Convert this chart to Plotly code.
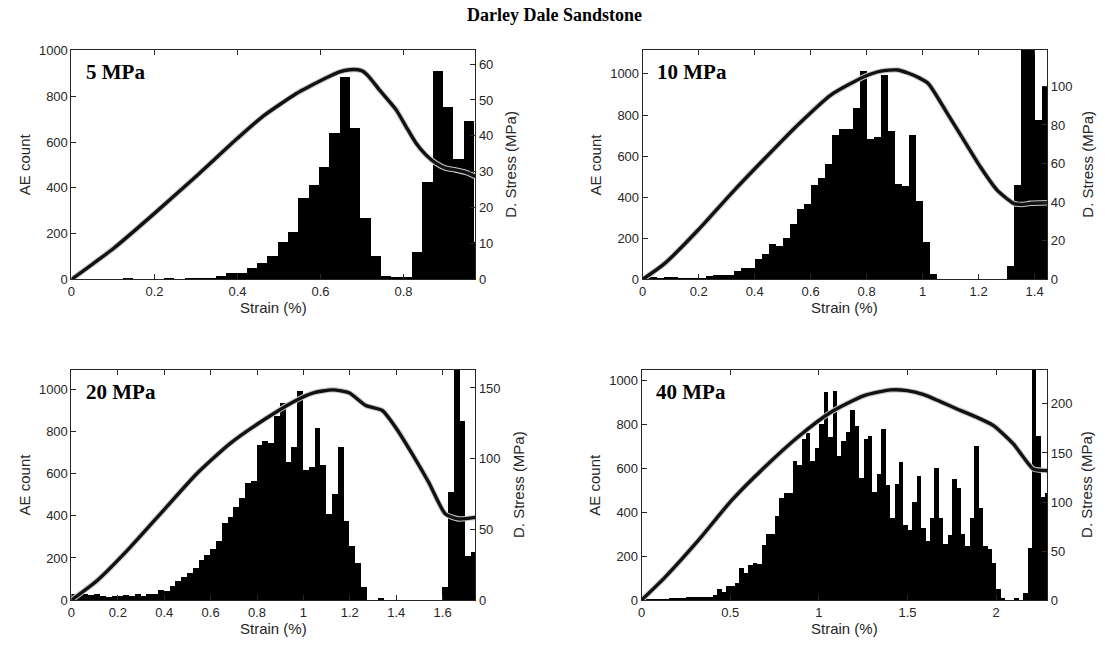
import plotly.graph_objects as go

TITLE = "Darley Dale Sandstone"
PANEL_LABELS = ["5 MPa", "10 MPa", "20 MPa", "40 MPa"]
X_TITLE = "Strain (%)"
Y_LEFT_TITLE = "AE count"
Y_RIGHT_TITLE = "D. Stress (MPa)"

# AE histogram bin widths (strain %) and counts per bin, starting at strain 0
BIN_WIDTH = [0.0249, 0.025, 0.025, 0.025]

AE_5 = [0, 1, 2, 3, 2, 5, 2, 3, 2, 4, 3, 4, 5, 9, 17, 29, 29, 52, 74, 106,
        164, 208, 357, 416, 491, 642, 886, 661, 270, 106, 17, 14, 14, 121, 429, 912,
        757, 527, 695, 163]

AE_10 = [16, 13, 10, 11, 13, 8, 8, 8, 10, 18, 21, 23, 23, 45, 58, 58, 102, 125, 174, 163,
         203, 273, 343, 367, 461, 496, 562, 702, 734, 736, 837, 1017, 687, 695, 996, 723,
         468, 457, 705, 382, 184, 29, 0, 0, 0, 0, 0, 0, 0, 0, 0, 0,
         65, 463, 1250, 1180, 777, 938]

AE_20 = [29, 33, 30, 25, 29, 21, 16, 19, 19, 25, 22, 29, 19, 33, 32, 51, 44, 68, 92, 111,
         132, 152, 190, 214, 246, 283, 368, 398, 446, 486, 560, 568, 740, 757, 746, 878,
         937, 660, 727, 997, 619, 632, 819, 643, 413, 508, 727, 378, 259, 179, 63, 0, 0,
         13, 0, 0, 0, 0, 0, 0, 0, 0, 0, 0, 63, 513, 1150, 854, 211, 232]

AE_40 = [9, 6, 3, 5, 3, 3, 12, 11, 9, 12, 15, 15, 15, 15, 15, 18, 27, 50, 38, 65,
         68, 80, 146, 123, 161, 172, 167, 252, 301, 301, 386, 465, 491, 491, 635, 617,
         734, 764, 635, 696, 802, 951, 745, 954, 658, 726, 769, 866, 792, 556, 734, 749,
         495, 574, 780, 526, 377, 529, 632, 343, 322, 448, 567, 328, 271, 374, 605, 377,
         258, 298, 552, 511, 301, 248, 374, 704, 419, 248, 233, 172, 50, 9, 0, 0, 9, 0,
         35, 237, 1200, 749, 471, 491]

# differential stress curves (strain %, MPa)
STRAIN_5 = [0, 0.05, 0.102, 0.2, 0.302, 0.4, 0.462, 0.542, 0.574, 0.622, 0.646, 0.67, 0.69,
            0.702, 0.718, 0.742, 0.782, 0.806, 0.83, 0.854, 0.878, 0.902, 0.925, 0.95, 0.973]
STRESS_5 = [0, 4.2, 8.7, 18.4, 28.9, 39.3, 45.5, 51.8, 53.8, 56.6, 57.8, 58.4, 58.4,
            58.0, 56.3, 52.8, 47.3, 42.6, 38.0, 34.7, 32.4, 31.0, 30.5, 29.8, 28.7]

STRAIN_10 = [0, 0.079, 0.198, 0.317, 0.435, 0.554, 0.672, 0.791, 0.851, 0.91, 0.95, 0.985,
             1.02, 1.088, 1.147, 1.206, 1.266, 1.325, 1.355, 1.384, 1.444]
STRESS_10 = [0, 8.3, 25.6, 44.6, 62.5, 80.0, 95.5, 105.0, 107.9, 108.5, 106.8, 104.6,
             101.5, 86.0, 72.2, 58.4, 46.3, 39.4, 38.8, 39.4, 39.7]

STRAIN_20 = [0, 0.11, 0.253, 0.396, 0.539, 0.682, 0.825, 0.968, 1.04, 1.126, 1.197, 1.269,
             1.34, 1.397, 1.469, 1.54, 1.612, 1.669, 1.74]
STRESS_20 = [0, 13.7, 37.3, 63.3, 89.2, 110.5, 127.0, 141.2, 146.4, 148.7, 146.6, 137.6,
             134.1, 122.3, 103.4, 83.3, 60.9, 57.4, 58.5]

STRAIN_40 = [0, 0.131, 0.318, 0.506, 0.693, 0.88, 1.067, 1.255, 1.404, 1.498, 1.592, 1.685,
             1.779, 1.891, 1.985, 2.097, 2.154, 2.21, 2.288]
STRESS_40 = [0, 23.1, 60.5, 101.4, 135.4, 166.0, 191.5, 208.5, 214.3, 213.6, 209.5, 202.4,
             194.9, 186.4, 177.9, 159.2, 145.6, 133.7, 132.0]

AE_DATA = [AE_5, AE_10, AE_20, AE_40]
STRAIN_DATA = [STRAIN_5, STRAIN_10, STRAIN_20, STRAIN_40]
STRESS_DATA = [STRESS_5, STRESS_10, STRESS_20, STRESS_40]

X_MAX = [0.973, 1.445, 1.741, 2.288]
AE_MAX = [1004, 1118, 1095, 1049]
STRESS_MAX = [64, 119, 163, 235]
X_DTICK = [0.2, 0.2, 0.2, 0.5]
STRESS_DTICK = [10, 20, 50, 50]

W, H = 1105, 650
# vertical correction between layout pixels and the photographed page
Y_OFF, Y_SCALE = 7.4, 0.975
# target plot boxes in pixels: left, right, top, bottom
BOXES = [(67.7, 473, 50, 279.3), (641, 1047, 50, 279.3),
         (67.7, 473, 369.3, 599.3), (640, 1047, 369.3, 599.3)]
RIGHT_TITLE_GAP = [35, 40, 44, 40]

TXT = "#262626"
SANS = "Liberation Sans, Arial, sans-serif"
SERIF = "Liberation Serif, Times New Roman, serif"

fig = go.Figure()
layout = {}
annotations = []


def px(x):
    return x / W


def py(y):
    return 1 - ((y - Y_OFF) / Y_SCALE) / H


for i in range(4):
    n = i + 1
    xid = "x" if n == 1 else f"x{n}"
    yl = "y" if n == 1 else f"y{2 * n - 1}"
    yr = f"y{2 * n}"
    xkey = "xaxis" if n == 1 else f"xaxis{n}"
    ylkey = "yaxis" if n == 1 else f"yaxis{2 * n - 1}"
    yrkey = f"yaxis{2 * n}"
    l, r, t, b = BOXES[i]
    w = BIN_WIDTH[i]
    counts = AE_DATA[i]
    centers = [(k + 0.5) * w for k in range(len(counts))]

    fig.add_trace(go.Bar(x=centers, y=counts, width=[w] * len(counts),
                         marker=dict(color="black", line=dict(width=0)),
                         xaxis=xid, yaxis=yl, showlegend=False))
    fig.add_trace(go.Scatter(x=STRAIN_DATA[i], y=STRESS_DATA[i], mode="lines",
                             line=dict(color="#c8c8c8", width=5.5, shape="spline", smoothing=0.6),
                             xaxis=xid, yaxis=yr, showlegend=False))
    fig.add_trace(go.Scatter(x=STRAIN_DATA[i], y=STRESS_DATA[i], mode="lines",
                             line=dict(color="#111111", width=3.4, shape="spline", smoothing=0.6),
                             xaxis=xid, yaxis=yr, showlegend=False))

    common = dict(showgrid=False, zeroline=False, showline=True, linecolor=TXT,
                  linewidth=1, ticks="inside", ticklen=5, tickcolor=TXT,
                  tickfont=dict(family=SANS, size=13, color=TXT))
    layout[xkey] = dict(common, domain=[px(l), px(r)], range=[0, X_MAX[i]],
                        dtick=X_DTICK[i], tick0=0, anchor=yl, mirror="ticks")
    layout[ylkey] = dict(common, domain=[py(b), py(t)], range=[0, AE_MAX[i]],
                         dtick=200, tick0=0, anchor=xid, side="left")
    layout[yrkey] = dict(common, domain=[py(b), py(t)], range=[0, STRESS_MAX[i]],
                         dtick=STRESS_DTICK[i], tick0=0, anchor=xid, side="right",
                         overlaying=yl)

    cx = (l + r) / 2
    cy = (t + b) / 2
    annotations.append(dict(text=X_TITLE, x=px(cx), y=py(b + 28), xref="paper", yref="paper",
                            showarrow=False, font=dict(family=SANS, size=15, color=TXT),
                            xanchor="center", yanchor="middle"))
    annotations.append(dict(text=Y_LEFT_TITLE, x=px(l - 47), y=py(cy), xref="paper", yref="paper",
                            showarrow=False, textangle=-90,
                            font=dict(family=SANS, size=15, color=TXT),
                            xanchor="center", yanchor="middle"))
    annotations.append(dict(text=Y_RIGHT_TITLE, x=px(r + RIGHT_TITLE_GAP[i]), y=py(cy),
                            xref="paper", yref="paper", showarrow=False, textangle=-90,
                            font=dict(family=SANS, size=15, color=TXT),
                            xanchor="center", yanchor="middle"))
    annotations.append(dict(text="<b>" + PANEL_LABELS[i] + "</b>", x=px(l + 12.5), y=py(t + 22.5),
                            xref="paper", yref="paper", showarrow=False,
                            font=dict(family=SERIF, size=21, color="black"),
                            xanchor="left", yanchor="middle"))

annotations.append(dict(text="<b>" + TITLE + "</b>", x=px(552.5), y=py(15), xref="paper",
                        yref="paper", showarrow=False,
                        font=dict(family=SERIF, size=18, color="black"),
                        xanchor="center", yanchor="middle"))

fig.update_layout(**layout)
fig.update_layout(width=W, height=H, margin=dict(l=0, r=0, t=0, b=0),
                  paper_bgcolor="white", plot_bgcolor="white",
                  bargap=0, barmode="overlay", annotations=annotations,
                  showlegend=False)

fig.write_html("out.html", config={"displayModeBar": False},
               post_script="document.body.style.margin='0';document.body.style.overflow='hidden';")
